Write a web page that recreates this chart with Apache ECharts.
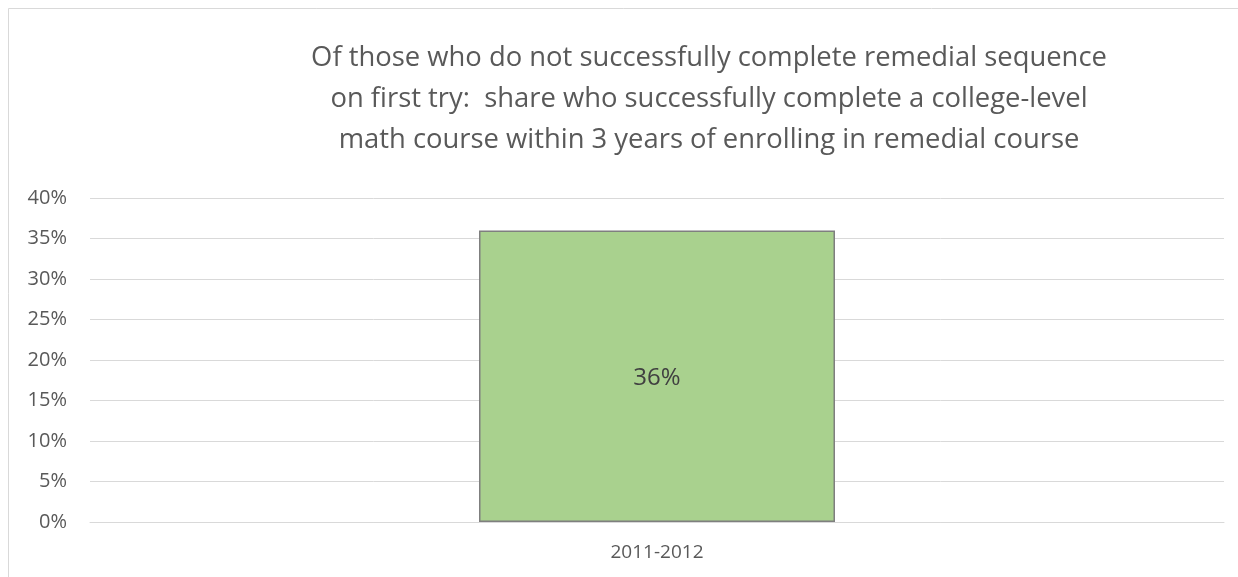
<!DOCTYPE html>
<html>
<head>
<meta charset="utf-8">
<script src="https://cdn.jsdelivr.net/npm/echarts@6/dist/echarts.min.js"></script>
<style>
html,body{margin:0;padding:0;background:#fff;}
#c{width:1238px;height:577px;}
</style>
</head>
<body>
<div id="c"></div>
<script>
const titleLines = [
  "Of those who do not successfully complete remedial sequence",
  "on first try:  share who successfully complete a college-level",
  "math course within 3 years of enrolling in remedial course"
];
const categories = ["2011-2012"];
const values = [0.36];
const yTicks = [0, 0.05, 0.10, 0.15, 0.20, 0.25, 0.30, 0.35, 0.40];

const chart = echarts.init(document.getElementById('c'), null, {renderer: 'canvas'});
const font = '"Open Sans", "Noto Sans", sans-serif';
chart.setOption({
  animation: false,
  backgroundColor: '#fff',
  graphic: [{
    type: 'rect',
    shape: {x: 8.5, y: 8.5, width: 1400, height: 800},
    style: {fill: 'none', stroke: '#d9d9d9', lineWidth: 1},
    silent: true
  }],
  title: {
    text: titleLines.join('\n'),
    left: 704,
    top: 33,
    textAlign: 'center',
    textStyle: {
      fontFamily: font,
      fontSize: 27.4,
      fontWeight: 'normal',
      color: '#595959',
      lineHeight: 41
    }
  },
  grid: {left: 90, right: 14, top: 198, bottom: 55, containLabel: false},
  xAxis: {
    type: 'category',
    data: categories,
    axisLine: {show: true, lineStyle: {color: '#d9d9d9', width: 1}},
    axisTick: {show: false},
    axisLabel: {fontFamily: font, fontSize: 19, color: '#595959', margin: 21}
  },
  yAxis: {
    type: 'value',
    min: yTicks[0],
    max: yTicks[yTicks.length - 1],
    interval: 0.05,
    axisLine: {show: false},
    axisTick: {show: false},
    splitLine: {lineStyle: {color: '#d9d9d9', width: 1}},
    axisLabel: {
      fontFamily: font, fontSize: 20, color: '#595959', margin: 23,
      formatter: v => Math.round(v * 100) + '%'
    }
  },
  series: [{
    type: 'bar',
    data: values,
    barWidth: 356,
    itemStyle: {color: '#a9d18e', borderColor: '#7f7f7f', borderWidth: 1.5},
    label: {
      show: true,
      position: 'inside',
      fontFamily: font,
      fontSize: 24,
      color: '#404040',
      offset: [0, 2],
      formatter: p => Math.round(p.value * 100) + '%'
    }
  }]
});
</script>
</body>
</html>
